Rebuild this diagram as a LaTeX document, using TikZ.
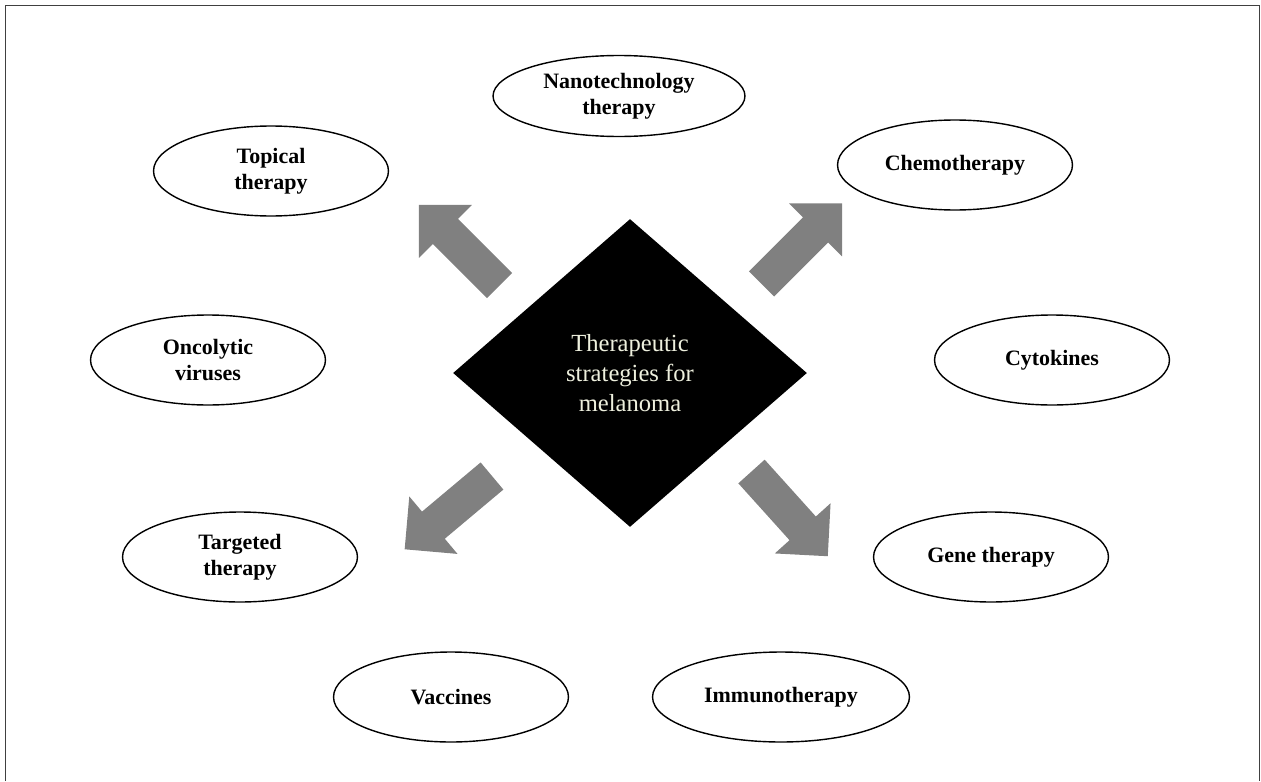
\documentclass[tikz,border=0pt]{standalone}
\usepackage{fontspec}
\setmainfont{Liberation Serif}
\usetikzlibrary{shapes.geometric}

\definecolor{arrowgray}{RGB}{128,128,128}
\definecolor{cream}{RGB}{238,240,222}

\tikzset{
  therapy/.style={draw=black, line width=0.8pt, ellipse, minimum width=4.7cm, minimum height=1.8cm,
    align=center, inner sep=0pt, font=\fontsize{12.5}{14.7}\selectfont\bfseries},
  centre/.style={diamond, fill=black, minimum width=7.08cm, minimum height=6.16cm, inner sep=0pt,
    align=center, text=cream, font=\fontsize{14}{17}\selectfont},
  blockarrow/.pic={
    \fill[arrowgray] (0,17.7) -- (76.5,17.7) -- (76.5,37.5) -- (114,0) -- (76.5,-37.5) -- (76.5,-17.7) -- (0,-17.7) -- cycle;
  }
}

\begin{document}
\begin{tikzpicture}[x=0.02cm, y=-0.02cm]
\useasboundingbox (0,0) rectangle (1261,781);

% frame
\draw[black!75, line width=0.03cm] (5.5,781) -- (5.5,5.5) -- (1259.5,5.5) -- (1259.5,781);

% centre
\node[centre](strategies) at (630,373){Therapeutic\\strategies for\\melanoma};

% strategies
\node[therapy, minimum width=5.04cm, minimum height=1.62cm](nano) at (619,96){Nanotechnology\\therapy};
\node[therapy](topical) at (271,171){Topical\\therapy};
\node[therapy](chemo) at (955,165){Chemotherapy};
\node[therapy](oncolytic) at (208,360){Oncolytic\\viruses};
\node[therapy](cytokines) at (1052,360){Cytokines};
\node[therapy](targeted) at (240,557){Targeted\\therapy};
\node[therapy](gene) at (991,557){Gene therapy};
\node[therapy](vaccines) at (451,697){Vaccines};
\node[therapy, minimum width=5.14cm](immuno) at (781,697){Immunotherapy};

% block arrows
\pic[rotate=135] (arrNW) at (499.5,285.5) {blockarrow};
\pic[rotate=45] (arrNE) at (761.5,284) {blockarrow};
\pic[rotate=220] (arrSW) at (492,476) {blockarrow};
\pic[rotate=-48] (arrSE) at (751.5,471.5) {blockarrow};
\end{tikzpicture}
\end{document}
